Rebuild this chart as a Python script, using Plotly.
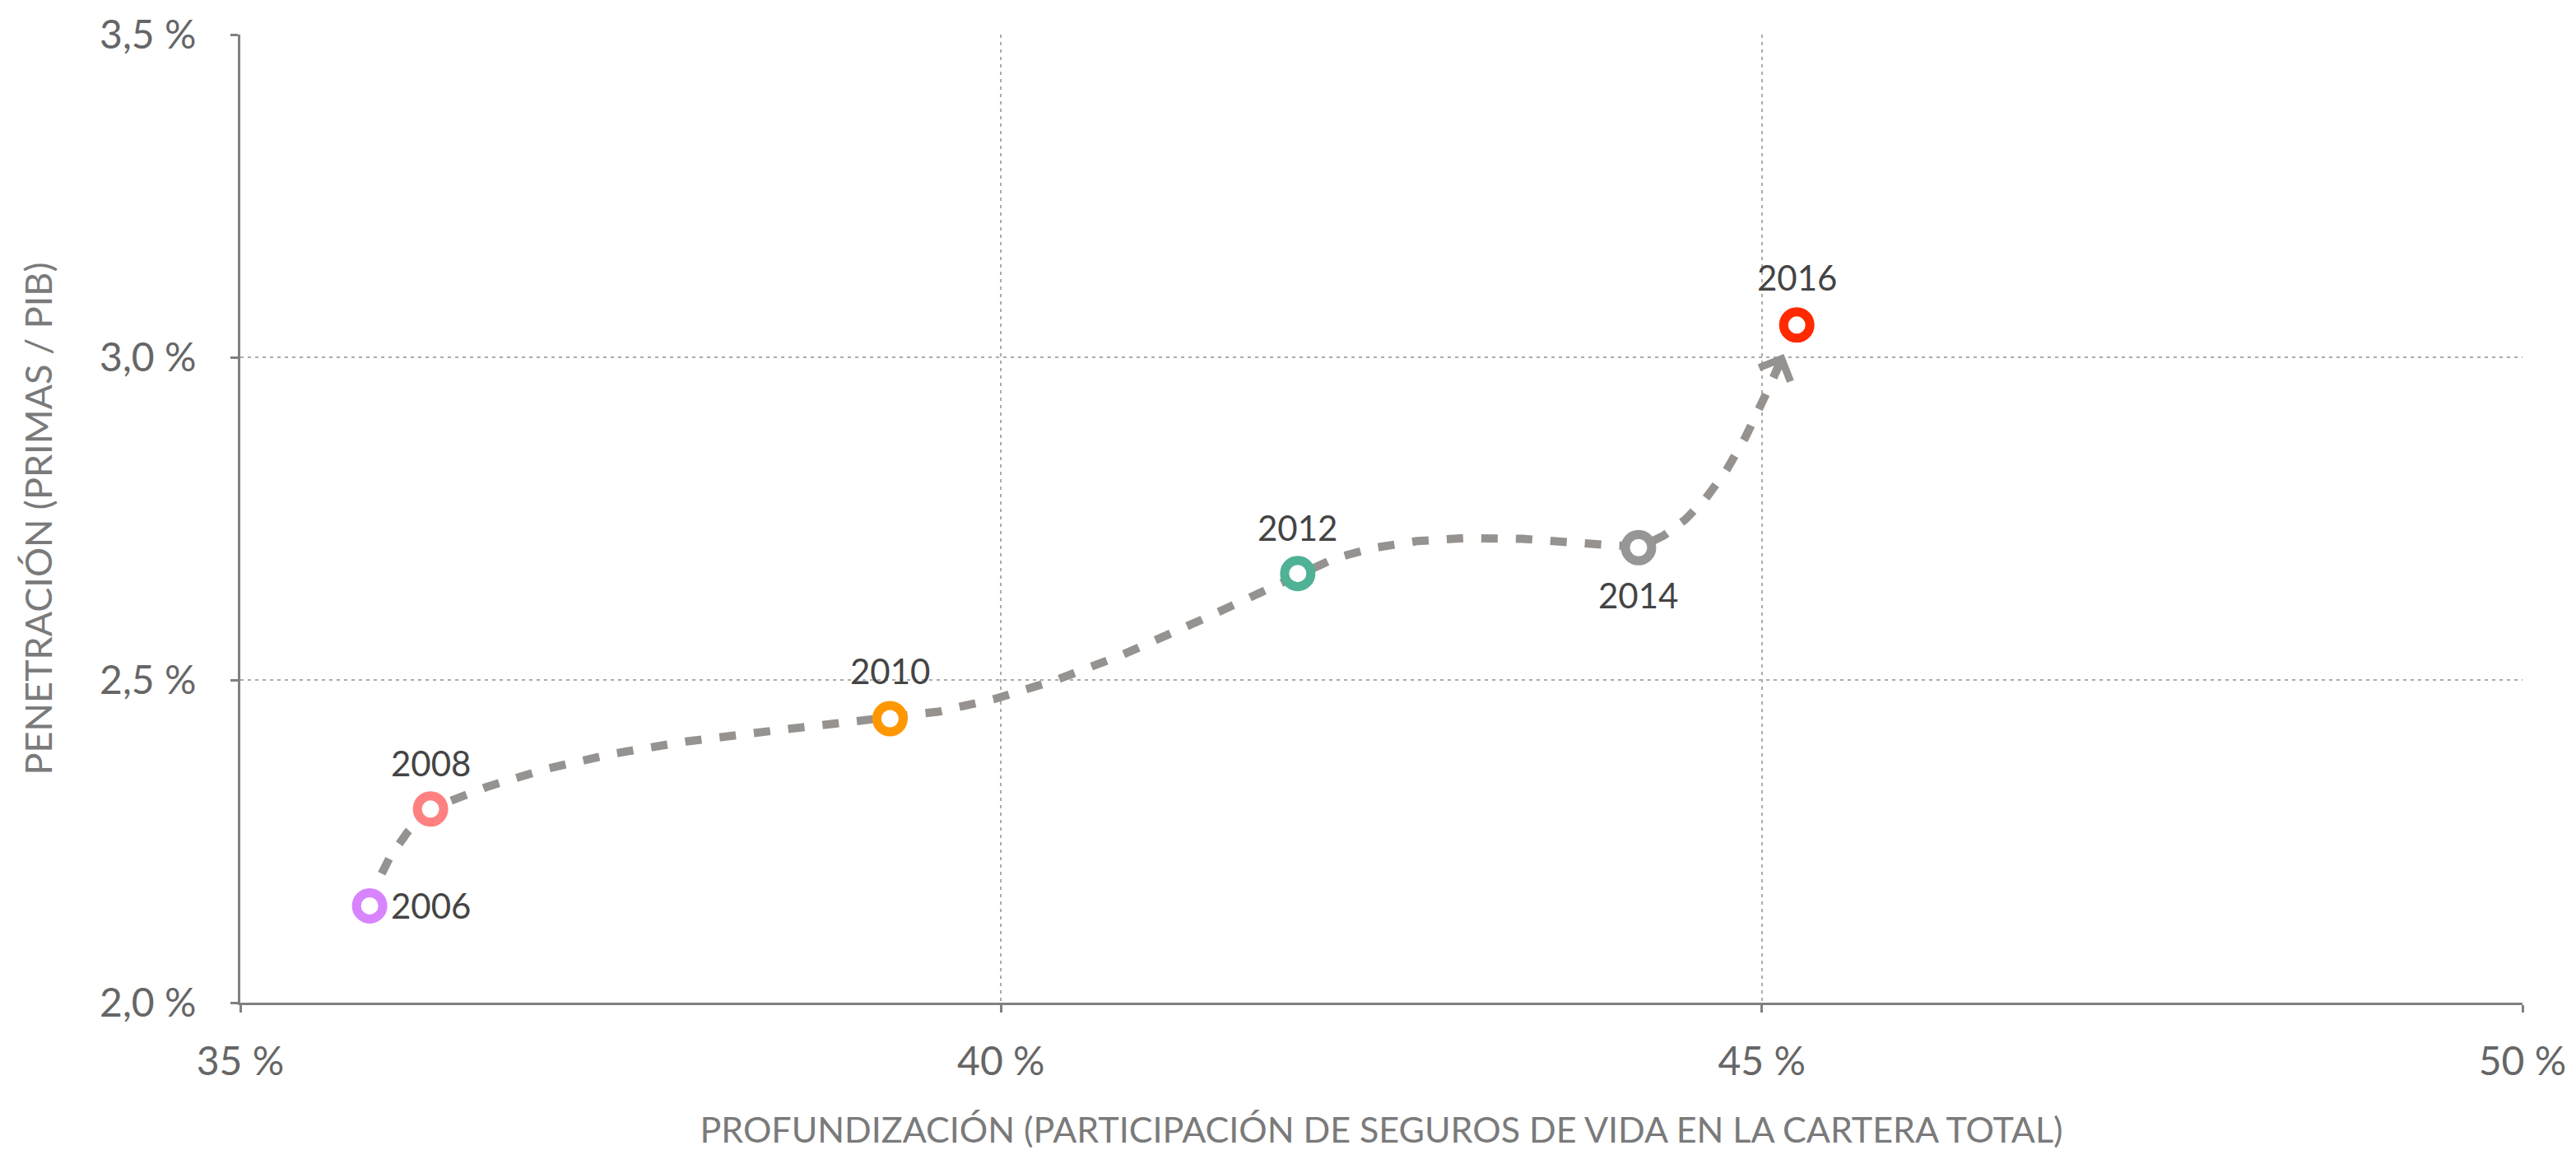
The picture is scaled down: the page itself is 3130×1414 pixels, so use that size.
import numpy as np
import plotly.graph_objects as go

# Life insurance depth vs. penetration, by year
years = ["2006", "2008", "2010", "2012", "2014", "2016"]
profundizacion = [35.85, 36.25, 39.27, 41.95, 44.19, 45.23]   # % of total portfolio
penetracion = [2.15, 2.30, 2.44, 2.665, 2.705, 3.05]           # premiums / GDP, %

x_ticks = [35, 40, 45, 50]
x_tick_labels = ["35 %", "40 %", "45 %", "50 %"]
y_ticks = [2.0, 2.5, 3.0, 3.5]
y_tick_labels = ["2,0 %", "2,5 %", "3,0 %", "3,5 %"]

# ---- styling -------------------------------------------------------------
FIG_W, FIG_H = 3130, 1414
MARGIN = dict(l=292, r=62, t=40, b=196)
X_RANGE = [35, 50]
Y_RANGE = [2.0, 3.5]

year_colors = ["#D884FF", "#FF8080", "#FF9800", "#4FB195", "#969696", "#FF2A00"]
# label placement per year: (xshift, yshift, xanchor)
label_place = [(24, 0, "left"), (0, 56, "center"), (0, 58, "center"),
               (0, 56, "center"), (0, -58, "center"), (0, 58, "center")]
path_color = "#959290"
font_family = "Lato, 'Noto Sans', sans-serif"

# direction of the hand-smoothed trajectory at each year (degrees, screen-up positive)
tangent_out = [76, 24, 6, 26, 20, None]
tangent_in = [None, 40, 6, 26, -5, 65]
ARROW_GAP = 38  # px left free between the arrow tip and the last marker

# ---- smooth trajectory (cubic Hermite in screen space) ----------------------
sx = (FIG_W - MARGIN["l"] - MARGIN["r"]) / (X_RANGE[1] - X_RANGE[0])
sy = (FIG_H - MARGIN["t"] - MARGIN["b"]) / (Y_RANGE[1] - Y_RANGE[0])
px = (np.array(profundizacion) - X_RANGE[0]) * sx
py = (np.array(penetracion) - Y_RANGE[0]) * sy

t = np.linspace(0, 1, 300)[:, None]
h00 = 2 * t**3 - 3 * t**2 + 1
h10 = t**3 - 2 * t**2 + t
h01 = -2 * t**3 + 3 * t**2
h11 = t**3 - t**2

pieces = []
for i in range(len(years) - 1):
    p0 = np.array([px[i], py[i]])
    p1 = np.array([px[i + 1], py[i + 1]])
    chord = np.hypot(*(p1 - p0))
    a0, a1 = np.radians(tangent_out[i]), np.radians(tangent_in[i + 1])
    m0 = chord * np.array([np.cos(a0), np.sin(a0)])
    m1 = chord * np.array([np.cos(a1), np.sin(a1)])
    seg = h00 * p0 + h10 * m0 + h01 * p1 + h11 * m1
    pieces.append(seg if i == 0 else seg[1:])
curve = np.vstack(pieces)

# stop the curve short of the final marker so the arrowhead sits in front of it
end = np.array([px[-1], py[-1]])
keep = np.hypot(*(curve - end).T) > ARROW_GAP
last = np.where(keep)[0].max()
curve = curve[: last + 1]
d = curve[-1] - curve[-8]
ang = np.arctan2(d[1], d[0])

curve_x = curve[:, 0] / sx + X_RANGE[0]
curve_y = curve[:, 1] / sy + Y_RANGE[0]

fig = go.Figure()

fig.add_trace(go.Scatter(
    x=curve_x, y=curve_y, mode="lines",
    line=dict(color=path_color, width=10, dash="20px,22px"),
    hoverinfo="skip", showlegend=False,
))

fig.add_trace(go.Scatter(
    x=profundizacion, y=penetracion, mode="markers",
    marker=dict(size=32, color="white", line=dict(color=year_colors, width=11)),
    text=years, hovertemplate="%{text}<br>%{x:.2f} % / %{y:.2f} %<extra></extra>",
    showlegend=False,
))

annotations = []
for yr, xv, yv, (dx, dy, xa) in zip(years, profundizacion, penetracion, label_place):
    annotations.append(dict(
        x=xv, y=yv, text=yr, showarrow=False, xshift=dx, yshift=dy,
        xanchor=xa, yanchor="middle",
        font=dict(family=font_family, size=42, color="#444444"),
    ))

# arrowhead at the end of the trajectory
tail_len = 26
annotations.append(dict(
    x=curve_x[-1], y=curve_y[-1], text="",
    showarrow=True, arrowhead=4, arrowsize=0.8, arrowwidth=10,
    arrowcolor=path_color, standoff=0,
    ax=-np.cos(ang) * tail_len, ay=np.sin(ang) * tail_len,
))

axis_common = dict(
    showline=True, linecolor="#808080", linewidth=3,
    ticks="outside", ticklen=9, tickwidth=3, tickcolor="#808080",
    showgrid=True, gridcolor="#ABABAB", gridwidth=2, griddash="4px,5px",
    zeroline=False,
    tickfont=dict(family=font_family, size=48, color="#666666"),
)

fig.update_xaxes(
    range=X_RANGE, tickmode="array", tickvals=x_ticks, ticktext=x_tick_labels,
    ticklabelstandoff=18,
    title=dict(text="PROFUNDIZACIÓN (PARTICIPACIÓN DE SEGUROS DE VIDA EN LA CARTERA TOTAL)",
               font=dict(family=font_family, size=43, color="#7A7A7A"), standoff=44),
    **axis_common,
)
fig.update_yaxes(
    range=Y_RANGE, tickmode="array", tickvals=y_ticks, ticktext=y_tick_labels,
    ticklabelstandoff=32,
    title=dict(text="PENETRACIÓN (PRIMAS / PIB)",
               font=dict(family=font_family, size=45, color="#7A7A7A"), standoff=44),
    **axis_common,
)

fig.update_layout(
    width=FIG_W, height=FIG_H,
    margin=MARGIN,
    plot_bgcolor="white", paper_bgcolor="white",
    annotations=annotations,
)

fig.write_html("out.html")
